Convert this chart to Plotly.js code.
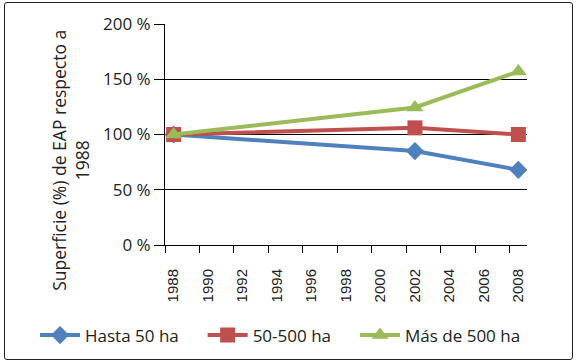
<!DOCTYPE html>
<html>
<head>
<meta charset="utf-8">
<script src="https://cdn.plot.ly/plotly-3.0.1.min.js"></script>
<style>
  html, body { margin: 0; padding: 0; background: #fff; }
  #wrap { position: relative; width: 576px; height: 364px; }
  #chart { position: absolute; left: 0; top: 0; width: 576px; height: 364px; }
  #frame { position: absolute; left: 4px; top: 2px; width: 567px; height: 356px;
           border: 1.5px solid #222; border-radius: 3px; pointer-events: none; }
</style>
</head>
<body>
<div id="wrap">
  <div id="chart"></div>
  <div id="frame"></div>
</div>
<script>
// Data
const years = [1988, 2002, 2008];
const hasta50 = [100, 85, 68];
const de50a500 = [100, 106, 100];
const mas500 = [100, 124.5, 157];
const seriesNames = ["Hasta 50 ha", "50-500 ha", "Más de 500 ha"];
const xTickLabels = ["1988","1990","1992","1994","1996","1998","2000","2002","2004","2006","2008"];
const yTickVals = [0, 50, 100, 150, 200];
const yTickText = ["0 %", "50 %", "100 %", "150 %", "200 %"];
const yTitle = "Superficie (%) de EAP respecto a<br>1988";

const colors = ["#4F81BD", "#C0504D", "#9BBB59"];
const symbols = ["diamond", "square", "triangle-up"];
const sizes = [14, 15, 15];
const vals = [hasta50, de50a500, mas500];
const legendIds = ["legend", "legend2", "legend3"];
const legendX = [-0.359, 0.104, 0.525];

const traces = vals.map((v, i) => ({
  x: years, y: v, name: seriesNames[i], type: "scatter", mode: "lines+markers",
  line: { color: colors[i], width: 4 },
  marker: { color: colors[i], symbol: symbols[i], size: sizes[i] },
  xaxis: "x", yaxis: "y", legend: legendIds[i]
}));

// invisible trace on tick-mark axis
traces.push({ x: [1987.5], y: [0], xaxis: "x2", yaxis: "y", mode: "markers",
  marker: { opacity: 0 }, showlegend: false, hoverinfo: "skip" });

const xTickVals = xTickLabels.map(Number);
const tickMarkVals = xTickVals.map(v => v - 0.5);

const legendBase = (x) => ({
  orientation: "h", x: x, xanchor: "left", y: -0.328, yanchor: "top",
  font: { family: "Open Sans, sans-serif", size: 17, color: "#222" },
  bgcolor: "rgba(0,0,0,0)", borderwidth: 0, itemwidth: 40
});

const layout = {
  width: 576, height: 364,
  margin: { l: 165, r: 49, t: 24, b: 119, autoexpand: false },
  paper_bgcolor: "rgba(0,0,0,0)", plot_bgcolor: "rgba(0,0,0,0)",
  font: { family: "Open Sans, sans-serif", color: "#222" },
  showlegend: true,
  legend: legendBase(legendX[0]),
  legend2: legendBase(legendX[1]),
  legend3: legendBase(legendX[2]),
  xaxis: {
    range: [1987.5, 2008.5], tickmode: "array", tickvals: xTickVals, ticktext: xTickLabels,
    tickangle: -90, ticks: "", showgrid: false, zeroline: false, automargin: false,
    showline: true, linecolor: "#000", linewidth: 1,
    tickfont: { family: "Liberation Sans, Arial, sans-serif", size: 15, color: "#222" },
    ticklabelstandoff: 17
  },
  xaxis2: {
    overlaying: "x", range: [1987.5, 2008.5], tickmode: "array", tickvals: tickMarkVals,
    ticks: "outside", ticklen: 7, tickcolor: "#000", tickwidth: 1, automargin: false,
    showticklabels: false, showgrid: false, zeroline: false, showline: false,
    side: "bottom", anchor: "y"
  },
  yaxis: {
    range: [0, 200], tickmode: "array", tickvals: yTickVals, ticktext: yTickText,
    ticks: "outside", ticklen: 10, tickcolor: "#000", tickwidth: 1, automargin: false,
    showgrid: true, gridcolor: "#000", gridwidth: 1, zeroline: false,
    showline: true, linecolor: "#000", linewidth: 1,
    tickfont: { family: "Open Sans, sans-serif", size: 17, color: "#222" }
  },
  annotations: [{
    text: yTitle, xref: "paper", yref: "paper", x: -0.26, y: 0.385,
    xanchor: "center", yanchor: "middle", textangle: -90, showarrow: false,
    font: { family: "Open Sans, sans-serif", size: 17.5, color: "#222" }, align: "center"
  }]
};

Plotly.newPlot("chart", traces, layout, { displayModeBar: false, staticPlot: true });
</script>
</body>
</html>
